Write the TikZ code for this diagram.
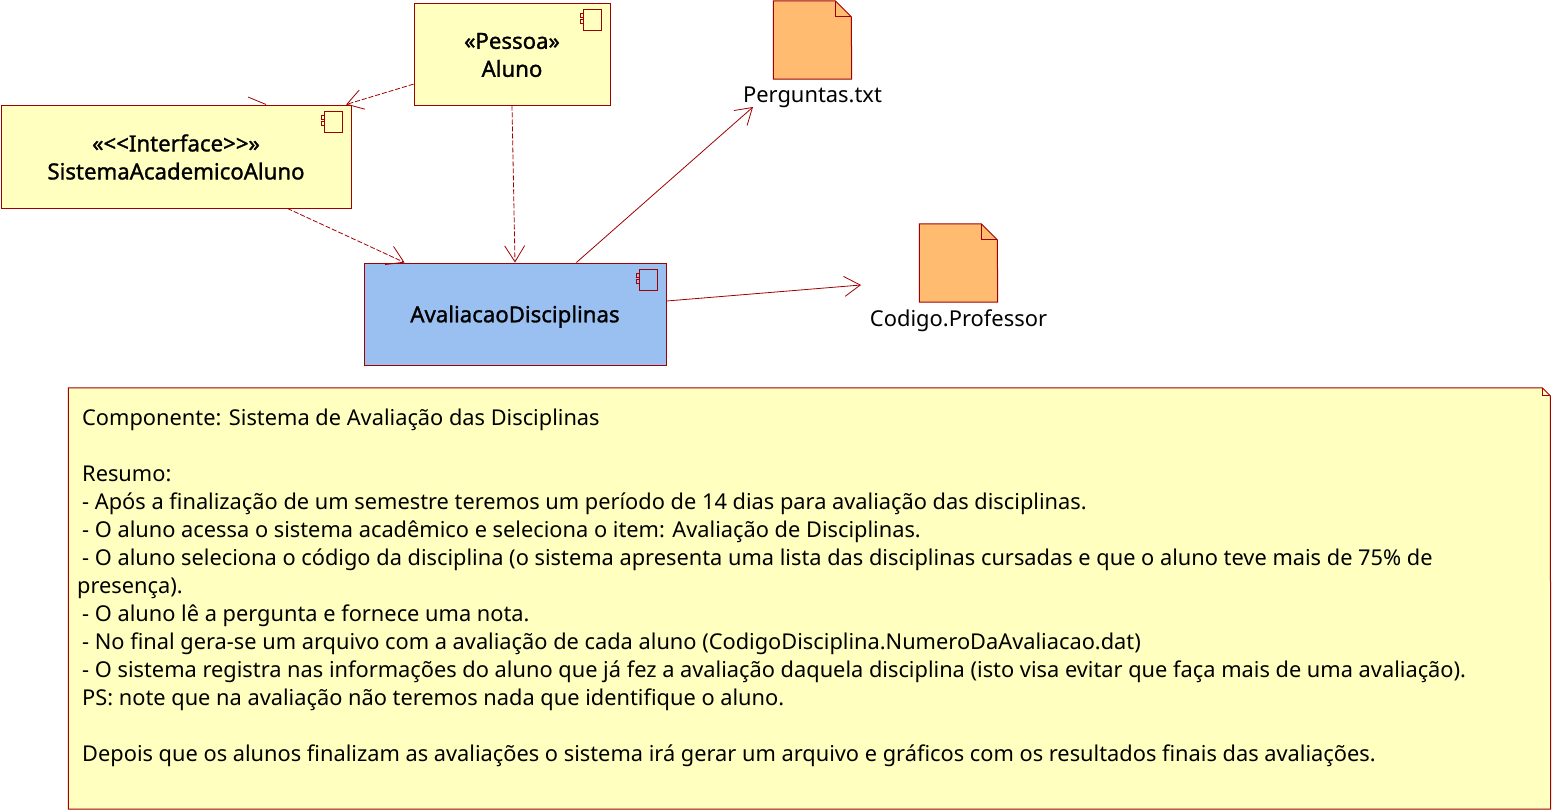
\documentclass[tikz,border=0pt]{standalone}
\usepackage{fontspec}
\setmainfont{Noto Sans}
\newfontfamily\kboldfont[FakeBold=1.3]{Noto Sans}
\usetikzlibrary{arrows.meta}
\definecolor{kline}{HTML}{A00000}
\definecolor{kyellow}{HTML}{FFFFC0}
\definecolor{kblue}{HTML}{9AC0F2}
\definecolor{korange}{HTML}{FFBC70}
\tikzset{
  compbox/.style={draw=kline,line width=1pt,inner sep=0pt},
  complabel/.style={inner sep=0pt,align=center,font=\fontsize{22.2}{28}\kboldfont},
  docbox/.style={minimum width=78pt,minimum height=78pt,inner sep=0pt},
  doclabel/.style={inner sep=0pt,font=\fontsize{21.9}{28}\selectfont},
  dep/.style={kline,line width=.8pt,dash pattern=on 5pt off 2pt,-{Straight Barb[length=16pt,width=20pt,line width=.8pt]}},
  use/.style={kline,line width=.8pt,-{Straight Barb[length=16pt,width=20pt,line width=.8pt]}},
}
\newcommand{\kind}{\hspace*{5pt}}
\begin{document}
\begin{tikzpicture}[x=1pt,y=-1pt]
\useasboundingbox(0,0)rectangle(1555,811);
\node[compbox,fill=kyellow,minimum width=196pt,minimum height=102pt](aluno)at(512,54){};
\node[compbox,fill=kyellow,minimum width=350pt,minimum height=103pt](sistema)at(176,156.5){};
\node[compbox,fill=kblue,minimum width=302pt,minimum height=102pt](aval)at(515,314){};
\node[complabel,yshift=-1pt](alunolb)at(aluno){«Pessoa»\\Aluno};
\node[complabel,yshift=-.5pt](sistemalb)at(sistema){«{<}{<}Interface{>}{>}»\\SistemaAcademicoAluno};
\node[complabel,yshift=-2.5pt](avallb)at(aval){AvaliacaoDisciplinas};
\foreach \n/\cl in {aluno/kyellow,sistema/kyellow,aval/kblue}{
  \draw[kline,line width=1pt,shift={(\n.north east)}](-27,7)rectangle++(18,21);
  \foreach \ky in {11,17}{\draw[kline,line width=1pt,fill=\cl,shift={(\n.north east)}](-30,\ky)rectangle++(3,4);}
}
% documents
\foreach \n/\kx/\ky/\lb in {pergdoc/812.5/40/Perguntas.txt,coddoc/958.5/263/Codigo.Professor}{
  \node[docbox](\n)at(\kx,\ky){};
  \node[doclabel,below=0pt](\n lb)at(\kx,\ky+46.5){\lb};
  \draw[kline,line width=1pt,fill=korange](\n.north west)--++(62,0)--++(16,16)--(\n.south east)--(\n.south west)--cycle;
  \draw[kline,line width=1pt](\n.north west)++(62,0)--++(0,16)--++(16,0);
}
% note
\node[inner sep=0pt,minimum width=1482pt,minimum height=421pt](note)at(809.5,598.5){};
\draw[kline,line width=1pt,fill=kyellow](note.north west)--++(1474,0)--++(8,8)--(note.south east)--(note.south west)--cycle;
\draw[kline,line width=1pt](note.north west)++(1474,0)--++(0,8)--++(8,0);
\node[anchor=north west,inner sep=0pt,align=left,font=\fontsize{21.8}{28}\selectfont](notetext)at(77,409){%
\kind Componente: Sistema de Avaliação das Disciplinas\\
\mbox{}\\
\kind Resumo:\\
\kind - Após a finalização de um semestre teremos um período de 14 dias para avaliação das disciplinas.\\
\kind - O aluno acessa o sistema acadêmico e seleciona o item: Avaliação de Disciplinas.\\
\kind - O aluno seleciona o código da disciplina (o sistema apresenta uma lista das disciplinas cursadas e que o aluno teve mais de 75\% de\\
presença).\\
\kind - O aluno lê a pergunta e fornece uma nota.\\
\kind - No final gera-se um arquivo com a avaliação de cada aluno (CodigoDisciplina.NumeroDaAvaliacao.dat)\\
\kind - O sistema registra nas informações do aluno que já fez a avaliação daquela disciplina (isto visa evitar que faça mais de uma avaliação).\\
\kind PS: note que na avaliação não teremos nada que identifique o aluno.\\
\mbox{}\\
\kind Depois que os alunos finalizam as avaliações o sistema irá gerar um arquivo e gráficos com os resultados finais das avaliações.};
% connectors
\coordinate(pergend)at(753,107);
\coordinate(codend)at(861,285);
\coordinate(stub)at(248,97);
\draw[dep](aluno.197)--(sistema.17.3);
\draw[dep](aluno.south)--(aval.north);
\draw[dep](sistema.-25.2)--(aval.155.1);
\draw[use](aval.40.4)--(pergend);
\draw[use](aval.east|-0,301)--(codend);
\draw[kline,line width=.8pt](stub)--(sistema.30.6);
\end{tikzpicture}
\end{document}
